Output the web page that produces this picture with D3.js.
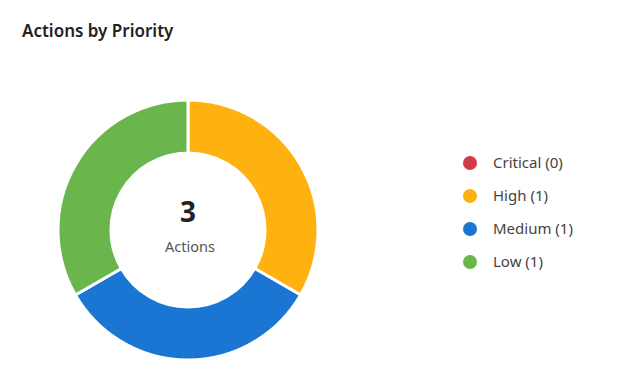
<!DOCTYPE html>
<html>
<head>
<meta charset="utf-8">
<script src="https://cdn.jsdelivr.net/npm/d3@7"></script>
<style>
  body { margin: 0; background: #fff; font-family: "Noto Sans", "Open Sans", sans-serif; }
</style>
</head>
<body>
<div class="canvas"></div>
<script>
const priorities = ["Critical", "High", "Medium", "Low"];
const counts = [0, 1, 1, 1];
const colors = ["#d13b44", "#ffb20f", "#1b76d3", "#6bb64c"];

const width = 624;
const height = 392;

const svg = d3
  .select(".canvas")
  .append("svg")
  .attr("width", width)
  .attr("height", height);

svg
  .append("text")
  .text("Actions by Priority")
  .attr("x", 22)
  .attr("y", 37)
  .attr("font-size", 17)
  .attr("font-weight", 600)
  .attr("fill", "#222");

const data = priorities.map((p, i) => ({ name: p, value: counts[i], color: colors[i] }));

const pie = d3.pie().value((d) => d.value).sort(null);
const arc = d3.arc().innerRadius(77).outerRadius(130);

const donut = svg.append("g").attr("transform", "translate(188,230)");

donut
  .selectAll("path")
  .data(pie(data).filter((d) => d.data.value > 0))
  .enter()
  .append("path")
  .attr("d", arc)
  .attr("fill", (d) => d.data.color)
  .attr("stroke", "#fff")
  .attr("stroke-width", 3);

donut
  .append("text")
  .text(d3.sum(counts))
  .attr("text-anchor", "middle")
  .attr("y", -8)
  .attr("font-size", 28)
  .attr("font-weight", "bold")
  .attr("fill", "#222");

donut
  .append("text")
  .text("Actions")
  .attr("text-anchor", "middle")
  .attr("x", 2)
  .attr("y", 22)
  .attr("font-size", 14.5)
  .attr("fill", "#555");

// Legend
const legendY = d3.scalePoint().domain(priorities).range([163, 262]);

const legend = svg
  .selectAll(".legend")
  .data(data)
  .enter()
  .append("g")
  .attr("class", "legend")
  .attr("transform", (d) => `translate(470,${legendY(d.name)})`);

legend
  .append("circle")
  .attr("r", 7)
  .attr("fill", (d) => d.color);

legend
  .append("text")
  .text((d) => `${d.name} (${d.value})`)
  .attr("x", 23)
  .attr("dy", "0.35em")
  .attr("font-size", 15)
  .attr("fill", "#444");
</script>
</body>
</html>
